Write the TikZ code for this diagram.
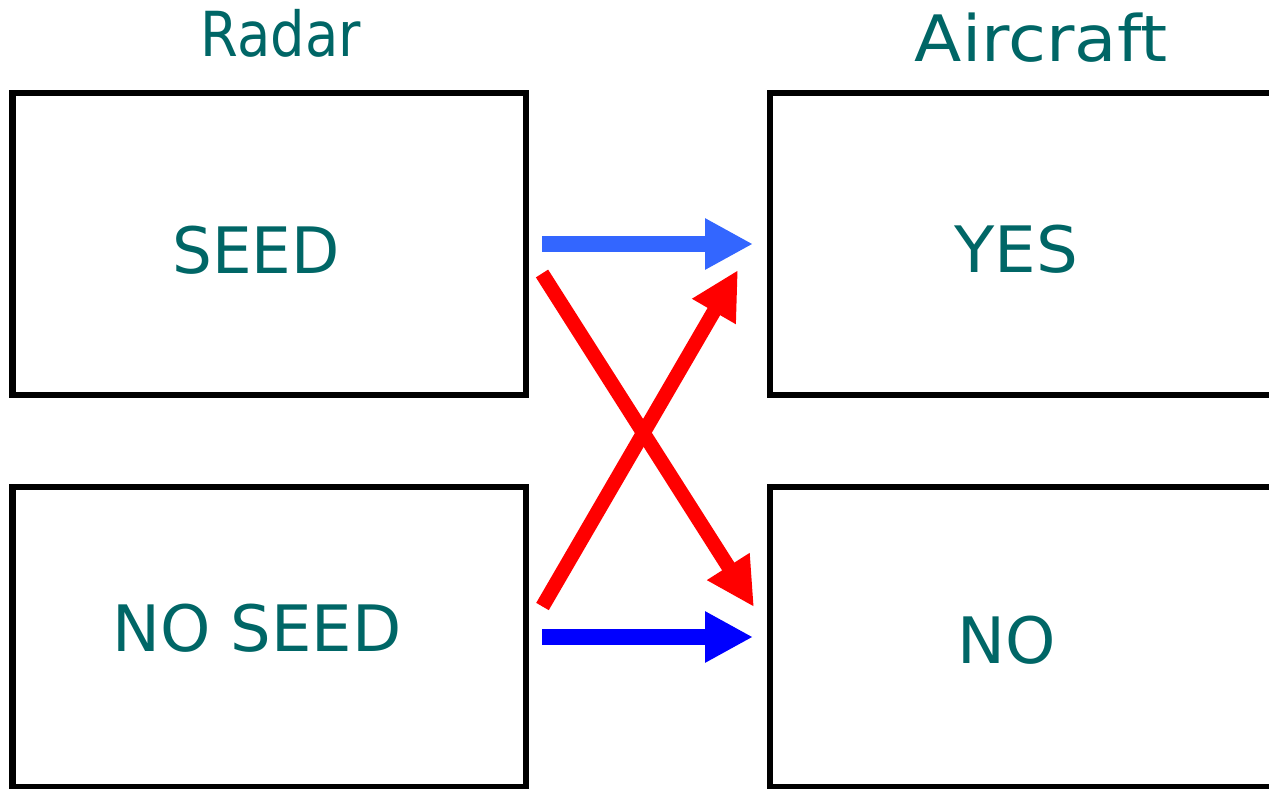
\documentclass[tikz,border=0pt]{standalone}
\usepackage{fontspec}
\usepackage{graphicx}
\newfontfamily\labfont{DejaVu Sans}
\usetikzlibrary{arrows.meta}
\definecolor{labteal}{RGB}{0,102,102}
\definecolor{lightblue}{RGB}{51,102,255}
\definecolor{darkblue}{RGB}{0,0,255}
\definecolor{arrred}{RGB}{255,0,0}
\tikzset{
  box/.style={draw=black, line width=6.5pt, inner sep=0pt, outer sep=0pt},
  lab/.style={text=labteal, font=\labfont\fontsize{64}{64}\selectfont, anchor=base, inner sep=0pt},
  bluearrow/.style={line width=16.5pt, -{Triangle[length=48pt,width=48pt]}},
  redarrow/.style={draw=arrred, line width=14.5pt, -{Triangle[length=48pt,width=47pt]}}
}
\begin{document}
\begin{tikzpicture}[x=1pt,y=-1pt]
\useasboundingbox (0,0) rectangle (1269,789);
\clip (0,0) rectangle (1269,789);
% boxes
\node[box, minimum width=513.5pt, minimum height=302pt] (seedbox) at (269.25,244) {};
\node[box, minimum width=513.5pt, minimum height=300pt] (noseedbox) at (269.25,637) {};
\node[box, minimum width=520pt, minimum height=302pt] (yesbox) at (1030,244) {};
\node[box, minimum width=520pt, minimum height=300pt] (nobox) at (1030,637) {};
% labels
\node[lab] (radar) at (281,57) {\scalebox{0.85}[0.97]{Radar}};
\node[lab] (aircraft) at (1041,62) {\scalebox{1.08}[1]{Aircraft}};
\node[lab] (seed) at (256,273) {\scalebox{0.98}[1]{SEED}};
\node[lab] (yes) at (1016,272) {\scalebox{1.03}[1]{YES}};
\node[lab] (noseed) at (257,651) {NO SEED};
\node[lab] (no) at (1007,663) {NO};
% arrow end points
\coordinate (b1s) at (542,244);
\coordinate (b1e) at (753,244);
\coordinate (b2s) at (542,637);
\coordinate (b2e) at (753,637);
\coordinate (r1s) at (542,273.5);
\coordinate (r1e) at (754,607);
\coordinate (r2s) at (542.5,606.5);
\coordinate (r2e) at (738,270);
% arrows
\draw[bluearrow, draw=lightblue, fill=lightblue] (b1s) -- (b1e);
\draw[bluearrow, draw=darkblue, fill=darkblue] (b2s) -- (b2e);
\draw[redarrow, fill=arrred] (r1s) -- (r1e);
\draw[redarrow, fill=arrred] (r2s) -- (r2e);
\end{tikzpicture}
\end{document}
